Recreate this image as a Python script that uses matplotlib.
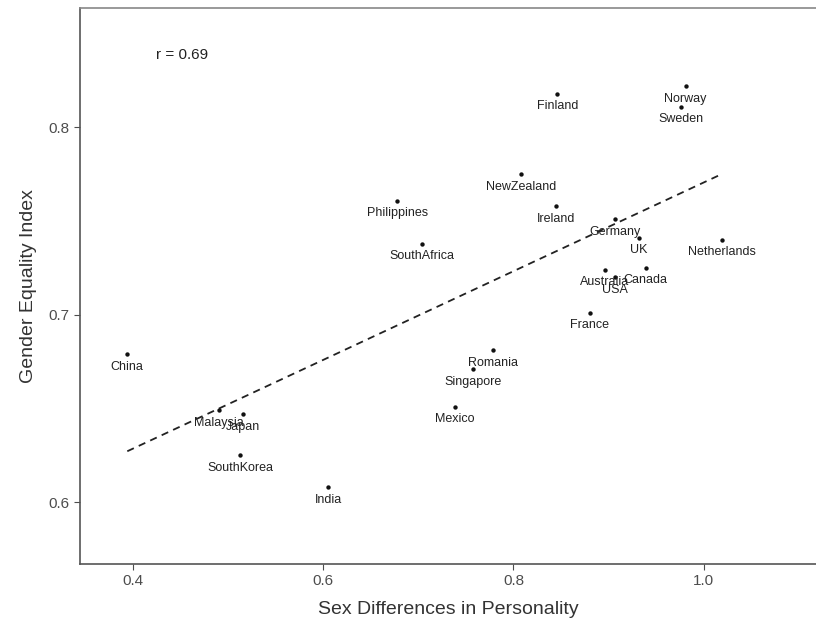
import numpy as np
import matplotlib
matplotlib.use("Agg")
import matplotlib.pyplot as plt

countries = ["China", "Malaysia", "Japan", "SouthKorea", "India", "Philippines",
             "SouthAfrica", "Mexico", "Singapore", "Romania", "NewZealand",
             "Ireland", "Finland", "France", "Australia", "USA", "Canada",
             "Germany", "UK", "Netherlands", "Norway", "Sweden"]
sex_diff = [0.394, 0.490, 0.516, 0.513, 0.605, 0.678,
            0.704, 0.738, 0.757, 0.778, 0.808,
            0.845, 0.846, 0.880, 0.896, 0.907, 0.939,
            0.907, 0.932, 1.019, 0.981, 0.976]
gei = [0.679, 0.649, 0.647, 0.625, 0.608, 0.761,
       0.738, 0.651, 0.671, 0.681, 0.775,
       0.758, 0.818, 0.701, 0.724, 0.720, 0.725,
       0.751, 0.741, 0.740, 0.822, 0.811]
x_ticks = [0.4, 0.6, 0.8, 1.0]
x_tick_labels = ["0.4", "0.6", "0.8", "1.0"]
y_ticks = [0.6, 0.7, 0.8]
y_tick_labels = ["0.6", "0.7", "0.8"]
r_text = "r = 0.69"

plt.rcParams['font.family'] = ['Liberation Sans', 'DejaVu Sans']

fig = plt.figure(figsize=(8.16, 6.2), dpi=100)
ax = fig.add_axes([0.0977, 0.0903, 0.9023, 0.8976])

x = np.array(sex_diff)
y = np.array(gei)
slope, intercept = np.polyfit(x, y, 1)
xs = np.array([x.min(), x.max()])
ax.plot(xs, slope * xs + intercept, color="#222222", lw=1.3,
        linestyle=(0, (4, 3)), zorder=2)

ax.scatter(x, y, s=10, color="#111111", zorder=3, linewidths=0)
for name, xi, yi in zip(countries, x, y):
    ax.annotate(name, (xi, yi), xytext=(0, -9), textcoords="offset points",
                ha="center", va="center", fontsize=9, color="#222222", zorder=4)

ax.text(0.424, 0.8385, r_text, fontsize=11, color="#222222", ha="left", va="center")

ax.set_xlim(0.344, 1.118)
ax.set_ylim(0.567, 0.864)
ax.set_xticks(x_ticks)
ax.set_xticklabels(x_tick_labels)
ax.set_yticks(y_ticks)
ax.set_yticklabels(y_tick_labels)
ax.tick_params(axis="both", labelsize=11, colors="#4d4d4d", length=4, width=0.8)
ax.set_xlabel("Sex Differences in Personality", fontsize=14, color="#333333", labelpad=9)
ax.set_ylabel("Gender Equality Index", fontsize=14, color="#333333", labelpad=8)

for side in ["left", "bottom"]:
    ax.spines[side].set_color("#555555")
    ax.spines[side].set_linewidth(1.2)
ax.spines["top"].set_color("#888888")
ax.spines["top"].set_linewidth(1.2)
ax.spines["right"].set_visible(False)

fig.savefig("out.png", dpi=100, facecolor="white")
